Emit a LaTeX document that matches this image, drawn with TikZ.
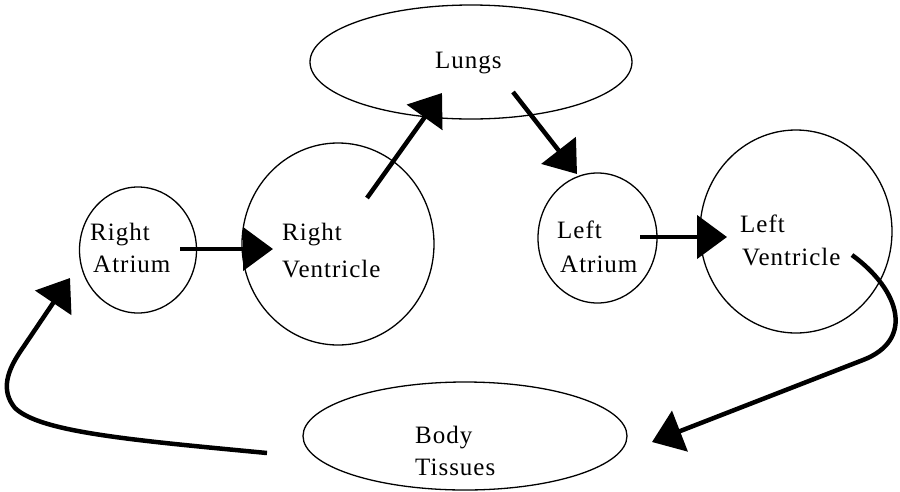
\documentclass[tikz,border=0pt]{standalone}
\usepackage{fontspec}
\setmainfont{Liberation Serif}[LetterSpace=4]
\usetikzlibrary{arrows.meta,shapes.geometric}
\begin{document}
\begin{tikzpicture}[x=1pt,y=-1pt,
  organ/.style 2 args={draw,ellipse,line width=1.3pt,inner sep=0pt,minimum width=#1,minimum height=#2},
  lbl/.style={anchor=base west,inner sep=0pt,font=\fontsize{25}{30}\selectfont},
  conn/.style={line width=4.5pt,-{Triangle[length=30pt,width=43pt]}}]
\useasboundingbox (0,0) rectangle (900,491);
% organs
\node[organ={322pt}{114pt}] (lungs) at (471,62) {};
\node[organ={117pt}{126pt}] (ra) at (138,250) {};
\node[organ={192pt}{202pt}] (rv) at (338,244) {};
\node[organ={119pt}{130pt}] (la) at (597.5,238) {};
\node[organ={192pt}{203pt}] (lv) at (796,231.5) {};
\node[organ={324pt}{108pt}] (body) at (465,436) {};
% labels
\node[lbl] (lungsT) at (435,68) {Lungs};
\node[lbl] (ra1) at (90,240) {Right};
\node[lbl] (ra2) at (93,272) {Atrium};
\node[lbl] (rv1) at (282,240) {Right};
\node[lbl] (rv2) at (282,277) {Ventricle};
\node[lbl] (la1) at (557,238) {Left};
\node[lbl] (la2) at (560,272) {Atrium};
\node[lbl] (lv1) at (740,232) {Left};
\node[lbl] (lv2) at (742,265) {Ventricle};
\node[lbl] (body1) at (415,443) {Body};
\node[lbl] (body2) at (415,475) {Tissues};
% connectors
\draw[conn] ([shift={(42,-1)}]ra.center) -- ([shift={(-65,5)}]rv.center);
\draw[conn] ([shift={(29,-46)}]rv.center) -- ([shift={(-29,31)}]lungs.center);
\draw[conn] ([shift={(42,30)}]lungs.center) -- ([shift={(-20.5,-64)}]la.center);
\draw[conn] ([shift={(42.5,-1)}]la.center) -- ([shift={(-69,5.5)}]lv.center);
\draw[conn] ([shift={(56,23.5)}]lv.center) .. controls (900,290) and (915,340) .. (863,360) -- ([shift={(187,6)}]body.center);
\draw[conn] ([shift={(-198,17)}]body.center) .. controls (130,440) and (40,432) .. (15,408) .. controls (0,390) and (8,370) .. (20,352) -- ([shift={(-68,28)}]ra.center);
\end{tikzpicture}
\end{document}
